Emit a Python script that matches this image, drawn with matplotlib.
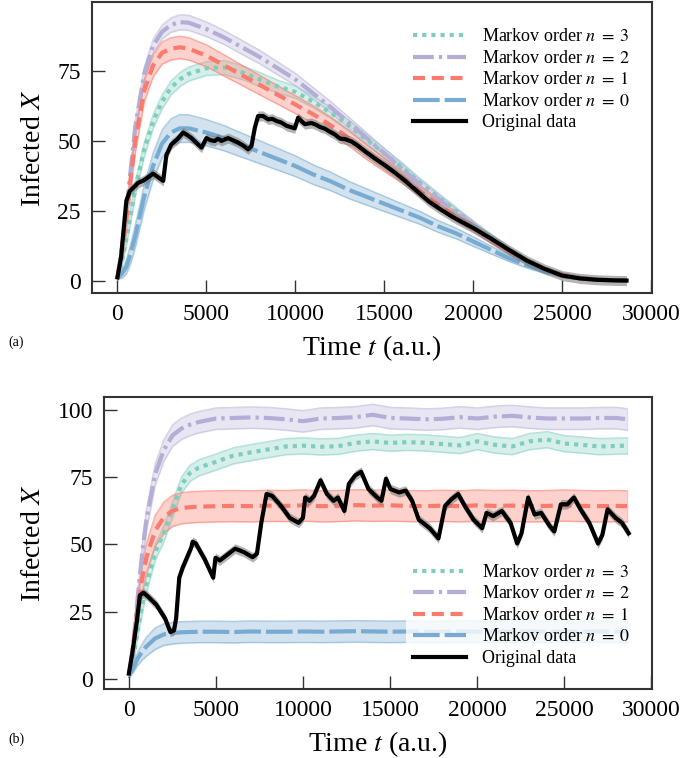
import numpy as np
import matplotlib
matplotlib.use("Agg")
import matplotlib.pyplot as plt

plt.rcParams['font.family'] = ['Liberation Serif', 'DejaVu Serif']
plt.rcParams['mathtext.fontset'] = 'stix'

# ---------------- Panel (a) data ----------------
t_a = [0, 250, 500, 750, 1000, 1500, 2000, 2500, 3000, 3500, 4000, 5000, 6000, 7000,
       8000, 9000, 10000, 11000, 12000, 13000, 14000, 15000, 16000, 17000, 18000,
       19000, 20000, 21000, 22000, 23000, 24000, 25000, 26000, 27000, 28000, 28600]
a_n3 = [1, 7, 15, 24, 33, 47, 57, 64, 69, 72, 74, 76, 76.3, 74.5, 72, 69.5, 67.5, 64,
        60, 55.5, 50.5, 45.5, 40.5, 35, 30, 25, 20, 15.5, 11, 7.2, 4.3, 2.2, 1.0, 0.4, 0.15, 0.1]
a_n2 = [1, 12, 25, 40, 55, 74, 84, 89, 91.5, 92.5, 92.3, 90, 87, 83.5, 80, 76, 72, 67,
        62, 56.5, 51, 45.5, 40, 34.5, 29.5, 24.5, 20, 15.2, 10.8, 7, 4.2, 2.1, 1.0, 0.4, 0.15, 0.1]
a_n1 = [1, 10, 22, 37, 50, 68, 77, 81.5, 83, 83.5, 83, 80.5, 77, 73.5, 70, 66.5, 63,
        59.5, 55.5, 51, 46, 41.5, 37, 32, 27.5, 23, 19, 14.5, 10.5, 7, 4.2, 2.2, 1.0, 0.4, 0.15, 0.1]
a_n0 = [1, 2.5, 5, 10, 16, 30, 41, 49, 53, 54.5, 54.5, 53, 51, 48.5, 46, 43.5, 41, 38,
        35.5, 32.5, 30, 27.5, 25, 22.5, 19.5, 17, 14, 11, 8, 5.5, 3.3, 1.8, 0.8, 0.3, 0.1, 0.05]
a_sd3 = [0.5, 1.5, 2, 2.5, 2.5, 2.5, 2.5, 2.5, 2.5, 2.5, 2.5, 2.5, 2.5, 2.5, 2.5, 2.3, 2.2,
         2.1, 2, 2, 1.9, 1.8, 1.7, 1.6, 1.5, 1.4, 1.3, 1.2, 1.0, 0.8, 0.6, 0.5, 0.3, 0.2, 0.1, 0.1]
a_sd2 = [0.5, 1.5, 2, 2.5, 2.5, 2.5, 2.5, 2.5, 2.6, 2.7, 2.7, 2.6, 2.5, 2.5, 2.4, 2.3, 2.2,
         2.1, 2, 2, 1.9, 1.8, 1.7, 1.6, 1.5, 1.4, 1.3, 1.2, 1.0, 0.8, 0.6, 0.5, 0.3, 0.2, 0.1, 0.1]
a_sd1 = [0.5, 2, 3, 3.5, 4, 4, 4, 4, 4, 4, 4, 3.9, 3.8, 3.6, 3.5, 3.3, 3.2, 3.1, 3, 2.8,
         2.6, 2.4, 2.2, 2.0, 1.8, 1.6, 1.4, 1.2, 1.0, 0.8, 0.6, 0.5, 0.3, 0.2, 0.1, 0.1]
a_sd0 = [0.5, 1.5, 2.5, 3.5, 4, 4.5, 4.8, 5, 5, 5, 4.9, 4.7, 4.5, 4.3, 4.1, 3.9, 3.7,
         3.5, 3.3, 3.1, 2.9, 2.7, 2.5, 2.3, 2.1, 1.9, 1.7, 1.4, 1.1, 0.9, 0.7, 0.5, 0.3, 0.2, 0.1, 0.1]

ta_orig = [0, 200, 500, 690, 1160, 1450, 1720, 2000, 2290, 2570, 2750, 3030, 3350, 3690,
           3900, 4160, 4450, 4720, 5000, 5250, 5470, 5650, 5840, 6050, 6220, 6500, 6780,
           7050, 7340, 7530, 7720, 7900, 8180, 8470, 8700, 8940, 9200, 9500, 9960, 10150,
           10350, 10530, 10900, 11150, 11370, 11650, 11930, 12200, 12490, 12800, 13150,
           13500, 13800, 14400, 15000, 15600, 16200, 16800, 17500, 18100, 18800, 19400,
           20000, 21000, 22000, 23000, 24000, 25000, 26000, 27000, 28000, 28600]
xa_orig = [1.2, 8.3, 28.6, 32, 35, 35.8, 37, 38.3, 37, 35.7, 45, 48.8, 50.5, 53, 52.2,
           51, 49.2, 47.6, 51, 50.2, 50, 50.8, 50, 50.6, 51, 50.2, 49.4, 48.4, 47, 48.2,
           54.8, 58.9, 58.9, 57.7, 57.9, 57.1, 56.6, 55.4, 54.5, 58.3, 57, 56, 56.4, 55.8,
           55, 54.4, 53.3, 52.4, 50.9, 50.6, 49.8, 48.3, 46.8, 44, 41.4, 38.6, 35.5, 32.2,
           28.3, 25.7, 22.9, 20.8, 18.8, 15, 11, 7.2, 4.2, 1.8, 0.8, 0.3, 0.1, 0.05]

# ---------------- Panel (b) data ----------------
t_b = [0, 250, 500, 750, 1000, 1500, 2000, 2500, 3000, 3500, 4000, 5000, 6000, 7000,
       8000, 9000, 10000, 11000, 12000, 13000, 14000, 15000, 16000, 17000, 18000,
       19000, 20000, 21000, 22000, 23000, 24000, 25000, 26000, 27000, 28000, 28600]
b_n3 = [1, 8, 18, 27, 35, 47, 54, 63, 72, 76.5, 78.5, 80.7, 83, 84.2, 85.3, 86.4, 86.7,
        86.3, 86.5, 87.7, 88.3, 87.7, 88, 87.8, 87.3, 86.8, 88.3, 87, 86.4, 88.3, 89,
        87.5, 87, 86.4, 86.6, 86.7]
b_n2 = [1, 13, 30, 46, 59, 76, 85, 90.5, 93, 94.5, 95.5, 96.8, 97, 97.2, 97, 96.5, 95.8,
        96.8, 97, 97.3, 98.2, 97, 96.8, 96.5, 96.7, 97.3, 96.8, 97.5, 97.8, 97.2, 96.8,
        96.8, 96.8, 97, 97, 96.5]
b_n1 = [1, 12, 27, 37, 45, 55, 60, 62.5, 63.5, 63.8, 64, 64.2, 64.3, 64.2, 64.4, 64.3,
        64.5, 64.2, 64.3, 64.6, 64.4, 64.5, 64.3, 64.2, 64.4, 64.2, 64.5, 64.3, 64.4,
        64.2, 64.3, 64.5, 64.3, 64.2, 64.3, 64.2]
b_n0 = [1, 4, 7.5, 10, 12, 15, 16.5, 17, 17.3, 17.4, 17.5, 17.5, 17.4, 17.6, 17.5, 17.5,
        17.6, 17.5, 17.6, 17.7, 17.6, 17.5, 17.6, 17.5, 17.5, 17.6, 17.5, 17.6, 17.5,
        17.6, 17.5, 17.6, 17.5, 17.6, 17.5, 17.5]
b_sd3 = [0.5, 2, 2.5, 3, 3, 3, 3, 3, 3, 3, 3, 3, 3, 3, 3, 3, 3, 3, 3, 3, 3, 3, 3, 3, 3,
         3, 3, 3, 3, 3, 3, 3, 3, 3, 3, 3]
b_sd2 = [0.5, 2, 3, 3.5, 4, 4, 4, 4, 4, 4, 4, 4, 4, 4, 4, 4, 4, 4, 4, 4, 4, 4, 4, 4, 4,
         4, 4, 4, 4, 4, 4, 4, 4, 4, 4, 4]
b_sd1 = [0.5, 3, 4, 5, 5.5, 5.8, 5.8, 5.8, 5.8, 5.8, 5.8, 5.8, 5.8, 5.8, 5.8, 5.8, 5.8,
         5.8, 5.8, 5.8, 5.8, 5.8, 5.8, 5.8, 5.8, 5.8, 5.8, 5.8, 5.8, 5.8, 5.8, 5.8, 5.8,
         5.8, 5.8, 5.8]
b_sd0 = [0.5, 1.5, 2.5, 3, 3.5, 4, 4, 4, 4, 4, 4, 4, 4, 4, 4, 4, 4, 4, 4, 4, 4, 4, 4, 4,
         4, 4, 4, 4, 4, 4, 4, 4, 4, 4, 4, 4]

tb_orig = [0, 200, 450, 630, 830, 1080, 1580, 2080, 2380, 2590, 2710, 2890, 3090, 3590,
           3660, 3840, 4340, 4840, 4970, 5220, 5600, 6100, 6600, 7100, 7350, 7600, 7900,
           8230, 8730, 9240, 9740, 9990, 10120, 10370, 10620, 11000, 11370, 11750, 12000,
           12370, 12630, 13000, 13330, 13750, 14260, 14500, 14760, 15010, 15510, 15890,
           16260, 16640, 17270, 17770, 18150, 18520, 18900, 19280, 19780, 20280, 20530,
           20910, 21410, 21910, 22290, 22540, 22920, 23290, 23670, 24170, 24420, 24800,
           25170, 25550, 25930, 26430, 26930, 27180, 27480, 27940, 28310, 28690]
xb_orig = [2, 9.8, 21, 31, 32, 30.7, 27.5, 22.4, 17.4, 18, 22.4, 37.6, 41.4, 49, 51, 50.3,
           44.6, 37.6, 45, 44, 45.9, 48.4, 47.1, 45.2, 46.5, 58, 68.7, 68, 64.3, 59.8, 58,
           59.8, 67.4, 66.2, 68, 73.8, 68.7, 66.2, 67.4, 62.4, 72.5, 75.7, 77, 70.6, 67.4,
           66.2, 74.4, 70.6, 69.3, 70, 66.2, 59.2, 56, 52.2, 64.3, 66.8, 68.7, 64.3, 59.2,
           56, 61.7, 60.5, 62.4, 58, 50.3, 54.1, 67.4, 61.1, 61.7, 56.7, 54.8, 64.9, 64.9,
           67.4, 63, 58, 50.3, 53.5, 63, 59.8, 58, 54.1]

labels = [r'Markov order $n\;=\;3$', r'Markov order $n\;=\;2$', r'Markov order $n\;=\;1$',
          r'Markov order $n\;=\;0$', 'Original data']
colors = ['#8dd3c7', '#bebada', '#fb8072', '#80b1d3']
line_colors = ['#7fcdbb', '#b3aed6', '#fa7a6e', '#78abd2']
dashes = [(1, 1.2), (5, 1.2, 0.8, 1.2), (2.9, 1.6), (6.4, 1.2)]

fig = plt.figure(figsize=(6.85, 7.58), dpi=100)
ax_a = fig.add_axes([92/685, 1-293/758, (652-92)/685, (293-2)/758])
ax_b = fig.add_axes([104/685, 1-689/758, (652-104)/685, (689-397)/758])


def draw(ax, t, means, sds, to, xo, legend_kw):
    handles = []
    for m, s, c, lc, d, lab in zip(means, sds, colors, line_colors, dashes, labels):
        m = np.asarray(m, float)
        s = np.asarray(s, float)
        ax.fill_between(t, m - s, m + s, color=c, alpha=0.35, lw=1.0, zorder=1)
        ax.plot(t, m + s, color=c, alpha=0.5, lw=0.8, zorder=1)
        ax.plot(t, m - s, color=c, alpha=0.5, lw=0.8, zorder=1)
        ln, = ax.plot(t, m, color=lc, lw=3, dashes=d, label=lab, zorder=3)
        handles.append(ln)
    xo = np.asarray(xo, float)
    ax.fill_between(to, xo - 1.8, xo + 1.8, color='#777777', alpha=0.55, lw=0, zorder=4)
    lo, = ax.plot(to, xo, color='black', lw=3, label=labels[4], zorder=5)
    handles.append(lo)
    leg = ax.legend(handles=handles, fontsize=13, handlelength=2.9, handletextpad=0.9,
                    labelspacing=0.25, frameon=True, fancybox=False, **legend_kw)
    leg.get_frame().set_edgecolor('none')
    leg.get_frame().set_facecolor('white')
    leg.get_frame().set_alpha(0.8)
    leg.set_zorder(10)
    ax.set_xlabel(r'Time $t$ (a.u.)', fontsize=20, labelpad=6)
    ax.set_ylabel(r'Infected $X$', fontsize=20, labelpad=8)
    ax.tick_params(axis='both', direction='in', length=9.5, width=1.0, labelsize=17,
                   pad=8, top=False, right=False, color='#333333')
    for sp in ax.spines.values():
        sp.set_linewidth(1.5)
        sp.set_color('#333333')
    ax.set_xticks([0, 5000, 10000, 15000, 20000, 25000, 30000])


draw(ax_a, t_a, [a_n3, a_n2, a_n1, a_n0], [a_sd3, a_sd2, a_sd1, a_sd0], ta_orig, xa_orig,
     dict(loc='upper right', bbox_to_anchor=(0.99, 0.965)))
ax_a.set_yticks([0, 25, 50, 75])
ax_a.set_xlim(-1430, 30030)
ax_a.set_ylim(-4.4, 99.7)

draw(ax_b, t_b, [b_n3, b_n2, b_n1, b_n0], [b_sd3, b_sd2, b_sd1, b_sd0], tb_orig, xb_orig,
     dict(loc='lower right', bbox_to_anchor=(0.99, 0.02)))
ax_b.set_yticks([0, 25, 50, 75, 100])
ax_b.set_xlim(-1430, 30030)
ax_b.set_ylim(-3.8, 104.8)

fig.text(8/685, 1-342/758, '(a)', fontsize=10, va='center', ha='left')
fig.text(8/685, 1-739/758, '(b)', fontsize=10, va='center', ha='left')

fig.savefig('out.png', dpi=100)
